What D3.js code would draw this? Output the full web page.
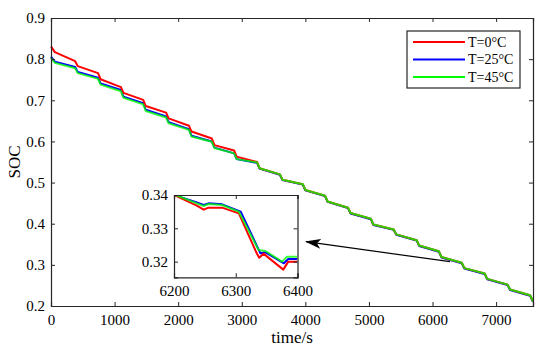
<!DOCTYPE html>
<html>
<head>
<meta charset="utf-8">
<script src="https://cdn.jsdelivr.net/npm/d3@7"></script>
<style>
  body { margin: 0; background: #fff; }
  text { font-family: "Liberation Serif", "Times New Roman", serif; fill: #000; }
</style>
</head>
<body>
<div id="chart"></div>
<script>
'use strict'

////////////////////////////////////
/////////////// data ///////////////
////////////////////////////////////

// time (s) at the corners of the step curve, shared by the three series
const timeS = [0, 60, 380, 420, 740, 780, 1100, 1140, 1450, 1490, 1810, 1850, 2170, 2210,
    2530, 2570, 2880, 2920, 3240, 3280, 3600, 3640, 3960, 4000, 4310, 4350, 4670, 4710,
    5030, 5070, 5390, 5430, 5750, 5790, 6100, 6140, 6460, 6500, 6820, 6860, 7180, 7220, 7535, 7580]

const socT0 = [0.831, 0.817, 0.795, 0.783, 0.766, 0.751, 0.732, 0.718, 0.701, 0.686, 0.670, 0.656,
    0.638, 0.624, 0.607, 0.591, 0.578, 0.563, 0.550, 0.535, 0.520, 0.507, 0.496, 0.482, 0.468, 0.454,
    0.439, 0.426, 0.412, 0.398, 0.386, 0.374, 0.360, 0.347, 0.333, 0.319, 0.305, 0.292, 0.279, 0.266,
    0.252, 0.240, 0.226, 0.211]

const socT25 = [0.806, 0.794, 0.781, 0.769, 0.755, 0.741, 0.725, 0.709, 0.693, 0.677, 0.661, 0.647,
    0.630, 0.614, 0.600, 0.585, 0.571, 0.557, 0.548, 0.534, 0.519, 0.506, 0.495, 0.481, 0.467, 0.453,
    0.438, 0.425, 0.411, 0.397, 0.385, 0.373, 0.359, 0.346, 0.332, 0.318, 0.304, 0.291, 0.278, 0.265,
    0.251, 0.239, 0.225, 0.210]

const socT45 = [0.803, 0.791, 0.778, 0.766, 0.752, 0.738, 0.722, 0.706, 0.690, 0.674, 0.658, 0.644,
    0.628, 0.612, 0.599, 0.584, 0.571, 0.557, 0.549, 0.535, 0.520, 0.507, 0.496, 0.482, 0.468, 0.454,
    0.439, 0.426, 0.412, 0.398, 0.386, 0.374, 0.360, 0.347, 0.333, 0.319, 0.305, 0.292, 0.279, 0.266,
    0.252, 0.240, 0.226, 0.211]

// zoomed window 6200-6400 s
const zoomT0 = [[6200, 0.3400], [6237, 0.3368], [6248, 0.3356], [6256, 0.3362], [6278, 0.3362],
    [6305, 0.3345], [6334, 0.3225], [6338, 0.3212], [6345, 0.3224], [6377, 0.3176], [6385, 0.3200], [6400, 0.3200]]
const zoomT25 = [[6200, 0.3400], [6237, 0.3378], [6248, 0.3370], [6256, 0.3375], [6278, 0.3372],
    [6308, 0.3350], [6340, 0.3225], [6348, 0.3228], [6378, 0.3195], [6385, 0.3208], [6400, 0.3208]]
const zoomT45 = [[6200, 0.3402], [6237, 0.3375], [6248, 0.3367], [6256, 0.3373], [6278, 0.3370],
    [6305, 0.3350], [6337, 0.3235], [6348, 0.3232], [6375, 0.3200], [6383, 0.3215], [6400, 0.3215]]

const seriesNames = ['T=0°C', 'T=25°C', 'T=45°C']
const seriesColors = ['#ff0000', '#0000ff', '#00ff00']

const xTicks = [0, 1000, 2000, 3000, 4000, 5000, 6000, 7000]
const yTicks = [0.2, 0.3, 0.4, 0.5, 0.6, 0.7, 0.8, 0.9]
const zoomXTicks = [6200, 6300, 6400]
const zoomYTicks = [0.32, 0.33, 0.34]

////////////////////////////////////
//////////// svg setup /////////////
////////////////////////////////////

const svgWidth = 550
const svgHeight = 357
const margin = { left: 51, right: 17, top: 18, bottom: 51 }
const width = svgWidth - margin.left - margin.right
const height = svgHeight - margin.top - margin.bottom

const svg = d3.select('#chart')
    .append('svg')
    .attr('width', svgWidth)
    .attr('height', svgHeight)

const g = svg.append('g')
    .attr('transform', `translate(${margin.left},${margin.top})`)

const x = d3.scaleLinear().domain([0, 7580]).range([0, width])
const y = d3.scaleLinear().domain([0.2, 0.9]).range([height, 0])

const axisColor = '#262626'
const fontSize = 15
const serif = '"Liberation Serif", "Times New Roman", serif'

// draw a matlab style box with inward ticks on all four sides
function boxAxes(sel, xs, ys, xt, yt, fmtX, fmtY) {
    const w = xs.range()[1], h = ys.range()[0]
    sel.append('g')
        .attr('transform', `translate(0,${h})`)
        .call(d3.axisBottom(xs).tickValues(xt).tickSize(-4).tickPadding(8).tickFormat(fmtX))
    sel.append('g')
        .call(d3.axisTop(xs).tickValues(xt).tickSize(-4).tickFormat(''))
    sel.append('g')
        .call(d3.axisLeft(ys).tickValues(yt).tickSize(-4).tickPadding(6).tickFormat(fmtY))
    sel.append('g')
        .attr('transform', `translate(${w},0)`)
        .call(d3.axisRight(ys).tickValues(yt).tickSize(-4).tickFormat(''))
    sel.selectAll('g').attr('font-family', serif)
    sel.selectAll('.domain').attr('stroke', axisColor).attr('stroke-width', 1.2)
    sel.selectAll('.tick line').attr('stroke', axisColor).attr('stroke-width', 1)
    sel.selectAll('.tick text')
        .style('font-family', serif)
        .style('font-size', fontSize + 'px')
        .attr('fill', '#000')
}

////////////////////////////////////
//////////// main plot /////////////
////////////////////////////////////

const mainSeries = [socT0, socT25, socT45].map(vals => vals.map((v, i) => [timeS[i], v]))

const line = d3.line()
    .x(d => x(d[0]))
    .y(d => y(d[1]))

// blue below red, green on top half transparent so the merged curve looks olive
const drawOrder = [1, 0, 2]
drawOrder.forEach(k => {
    g.append('path')
        .datum(mainSeries[k])
        .attr('fill', 'none')
        .attr('stroke', seriesColors[k])
        .attr('stroke-width', 2)
        .attr('stroke-linejoin', 'round')
        .attr('opacity', k == 2 ? 0.8 : 1)
        .attr('d', line)
})

boxAxes(g, x, y, xTicks, yTicks, d3.format('d'), d3.format('.1f'))

g.append('text')
    .attr('x', width / 2)
    .attr('y', height + 37)
    .attr('text-anchor', 'middle')
    .style('font-size', '17px')
    .text('time/s')

g.append('text')
    .attr('transform', `translate(${-31},${height / 2}) rotate(-90)`)
    .attr('text-anchor', 'middle')
    .style('font-size', '17px')
    .text('SOC')

////////////////////////////////////
////////////// legend //////////////
////////////////////////////////////

const legend = g.append('g')
    .attr('transform', `translate(${356},${13})`)

legend.append('rect')
    .attr('width', 113)
    .attr('height', 57)
    .attr('fill', '#fff')
    .attr('stroke', axisColor)
    .attr('stroke-width', 1.2)

seriesNames.forEach((name, i) => {
    const ly = 11 + i * 17.5
    legend.append('line')
        .attr('x1', 6).attr('x2', 58)
        .attr('y1', ly).attr('y2', ly)
        .attr('stroke', seriesColors[i])
        .attr('stroke-width', 2)
    legend.append('text')
        .attr('x', 61)
        .attr('y', ly)
        .attr('dy', '0.35em')
        .style('font-size', '14px')
        .text(name)
})

////////////////////////////////////
////////////// inset ///////////////
////////////////////////////////////

const inset = { left: 174, top: 195, width: 123.5, height: 82.3 }

const ix = d3.scaleLinear().domain([6200, 6400]).range([0, inset.width])
const iy = d3.scaleLinear().domain([0.3153, 0.34]).range([inset.height, 0])

const ig = svg.append('g')
    .attr('transform', `translate(${inset.left},${inset.top})`)

ig.append('rect')
    .attr('width', inset.width)
    .attr('height', inset.height)
    .attr('fill', '#fff')

svg.append('clipPath')
    .attr('id', 'inset-clip')
    .append('rect')
    .attr('width', inset.width)
    .attr('height', inset.height)

const iline = d3.line()
    .x(d => ix(d[0]))
    .y(d => iy(d[1]))

const zoomSeries = [zoomT0, zoomT25, zoomT45]
const lines = ig.append('g').attr('clip-path', 'url(#inset-clip)')
drawOrder.forEach(k => {
    lines.append('path')
        .datum(zoomSeries[k])
        .attr('fill', 'none')
        .attr('stroke', seriesColors[k])
        .attr('stroke-width', 2)
        .attr('stroke-linejoin', 'round')
        .attr('opacity', k == 2 ? 0.8 : 1)
        .attr('d', iline)
})

boxAxes(ig, ix, iy, zoomXTicks, zoomYTicks, d3.format('d'), d3.format('.2f'))

////////////////////////////////////
////////////// arrow ///////////////
////////////////////////////////////

svg.append('defs')
    .append('marker')
    .attr('id', 'arrowhead')
    .attr('viewBox', '0 0 16 10')
    .attr('refX', 15)
    .attr('refY', 5)
    .attr('markerWidth', 16)
    .attr('markerHeight', 10)
    .attr('markerUnits', 'userSpaceOnUse')
    .attr('orient', 'auto')
    .append('path')
    .attr('d', 'M0,0 L16,5 L0,10 L4,5 Z')
    .attr('fill', '#000')

svg.append('line')
    .attr('x1', 450).attr('y1', 261.7)
    .attr('x2', 306).attr('y2', 241.7)
    .attr('stroke', '#000')
    .attr('stroke-width', 1.2)
    .attr('marker-end', 'url(#arrowhead)')
</script>
</body>
</html>
